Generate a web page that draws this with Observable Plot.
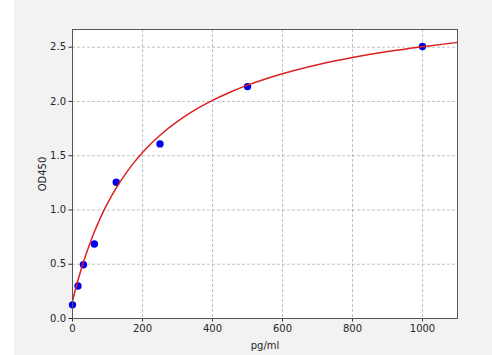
<!DOCTYPE html>
<html>
<head>
<meta charset="utf-8">
<script src="https://cdn.jsdelivr.net/npm/d3@7"></script>
<script src="https://cdn.jsdelivr.net/npm/@observablehq/plot@0.6"></script>
<style>
  html, body { margin: 0; padding: 0; background: #ffffff; }
  #wrap { margin-left: 14px; width: 478px; height: 355px; background: #f2f2f2; overflow: hidden; }
  svg { display: block; }
</style>
</head>
<body>
<div id="wrap"></div>
<script>
// Standard points (concentration in pg/ml, OD450)
const concentrations = [0, 15.6, 31.25, 62.5, 125, 250, 500, 1000];
const odValues = [0.126, 0.299, 0.495, 0.686, 1.256, 1.609, 2.137, 2.506];

// Fitted curve
const curveX = [0, 10, 20, 30, 40, 50, 60, 80, 100, 125, 150, 175, 200, 250, 300, 350, 400, 450, 500, 600, 700, 800, 900, 1000, 1100];
const curveY = [0.16, 0.286, 0.401, 0.507, 0.604, 0.694, 0.778, 0.929, 1.060, 1.203, 1.326, 1.434, 1.529, 1.688, 1.816, 1.922, 2.010, 2.085, 2.150, 2.256, 2.339, 2.405, 2.460, 2.505, 2.544];

const xTicks = [0, 200, 400, 600, 800, 1000];
const yTicks = [0.0, 0.5, 1.0, 1.5, 2.0, 2.5];

const points = concentrations.map((c, i) => ({x: c, y: odValues[i]}));
const curve = curveX.map((c, i) => ({x: c, y: curveY[i]}));

const chart = Plot.plot({
  width: 478,
  height: 355,
  marginLeft: 58,
  marginRight: 35,
  marginTop: 29,
  marginBottom: 37,
  style: {fontFamily: "DejaVu Sans", fontSize: "10px", background: "transparent", color: "#262626"},
  x: {domain: [0, 1100]},
  y: {domain: [0, 2.663]},
  marks: [
    Plot.frame({fill: "white"}),
    Plot.gridX(xTicks, {stroke: "#b0b0b0", strokeOpacity: 1, strokeDasharray: "3,2", strokeWidth: 0.8}),
    Plot.gridY(yTicks, {stroke: "#b0b0b0", strokeOpacity: 1, strokeDasharray: "3,2", strokeWidth: 0.8}),
    Plot.axisX(xTicks, {tickSize: 3.5, tickPadding: 3, tickFormat: d3.format("d"), label: "pg/ml", labelAnchor: "center", labelArrow: "none", labelOffset: 30, stroke: "#333"}),
    Plot.axisY(yTicks, {tickSize: 3.5, tickPadding: 3, tickFormat: d3.format(".1f"), label: "OD450", labelAnchor: "center", labelArrow: "none", labelOffset: 34, stroke: "#333"}),
    Plot.dot(points, {x: "x", y: "y", r: 3.7, fill: "#0000ee", stroke: "none"}),
    Plot.line(curve, {x: "x", y: "y", stroke: "#dd2020", strokeWidth: 1.5, curve: "monotone-x"}),
    Plot.frame({stroke: "#555", strokeWidth: 1})
  ]
});
document.getElementById("wrap").appendChild(chart);
</script>
</body>
</html>
